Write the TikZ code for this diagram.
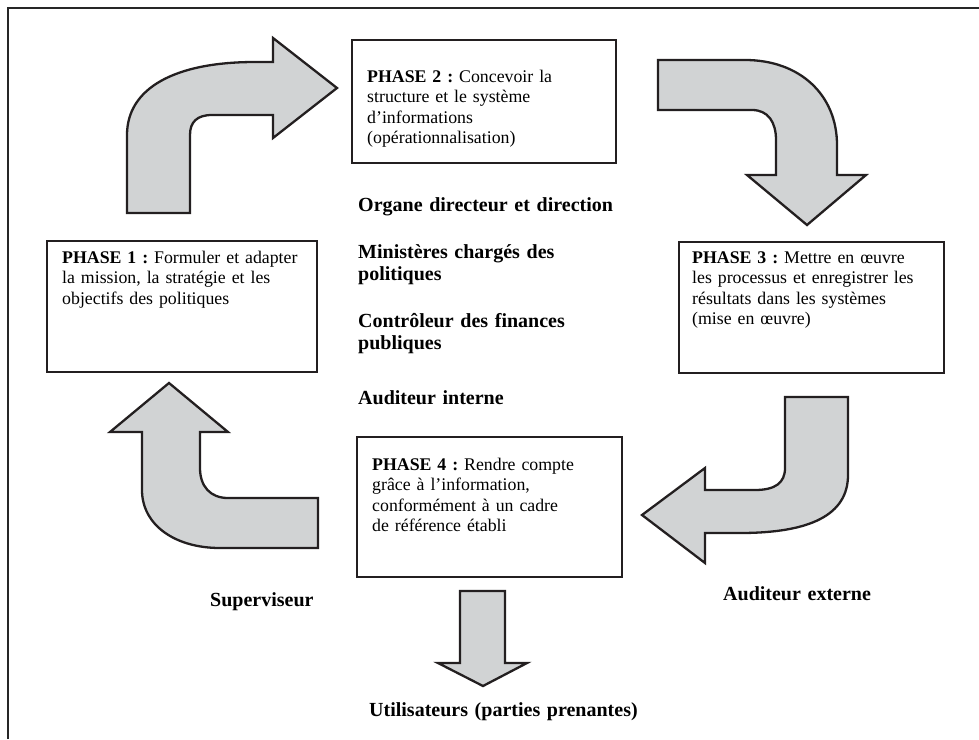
\documentclass[tikz,border=0pt]{standalone}
\usepackage{fontspec}
\setmainfont{Liberation Serif}
\usetikzlibrary{positioning}

\definecolor{grigio}{RGB}{209,211,212}
\definecolor{contorno}{RGB}{35,31,32}

\begin{document}
\frenchspacing
\begin{tikzpicture}[x=1pt, y=-1pt,
    freccia/.style={fill=grigio, draw=contorno, line width=2.3pt},
    cadre/.style={draw=contorno, line width=1.8pt, outer sep=0pt, anchor=north west},
    testo/.style={font=\fontsize{17.8}{20.5}\selectfont, align=left, text width=260pt, inner sep=0pt, anchor=base west},
    etichetta/.style={font=\fontsize{20}{22.5}\selectfont\bfseries, align=left, text width=320pt, inner sep=0pt, anchor=base west}]

    \useasboundingbox (0,0) rectangle (979,739);

    % cornice esterna (solo bordo sinistro e superiore)
    \draw[black!85, line width=1.5pt] (8,739) -- (8,8) -- (979,8);

    % -- Le quattro fasi --
    \node[cadre, minimum width=270, minimum height=131] (f1) at (47,241) {};
    \node[cadre, minimum width=264, minimum height=123] (f2) at (352,40) {};
    \node[cadre, minimum width=265, minimum height=131] (f3) at (679,242) {};
    \node[cadre, minimum width=265, minimum height=140] (f4) at (357,437) {};

    \node[testo] (t1) at (62,263) {\textbf{PHASE 1 :} Formuler et adapter\\la mission, la stratégie et les\\objectifs des politiques};
    \node[testo] (t2) at (367,82) {\textbf{PHASE 2 :} Concevoir la\\structure et le système\\d’informations\\(opérationnalisation)};
    \node[testo] (t3) at (692,263) {\textbf{PHASE 3 :} Mettre en œuvre\\les processus et enregistrer les\\résultats dans les systèmes\\(mise en œuvre)};
    \node[testo] (t4) at (372,470) {\textbf{PHASE 4 :} Rendre compte\\grâce à l’information,\\conformément à un cadre\\de référence établi};

    % -- Frecce del ciclo --
    % fase 1 -> fase 2
    \draw[freccia] (127,213) -- (127,135) .. controls (127,88) and (175,62) .. (255,62) -- (273,62)
                   -- (273,38) -- (337,88) -- (273,138) -- (273,115) -- (212,115)
                   .. controls (197,115) and (190,122) .. (190,135) -- (190,213) -- cycle;

    % fase 2 -> fase 3
    \draw[freccia] (658,60) -- (745,60) .. controls (800,60) and (837,95) .. (837,145) -- (837,175)
                   -- (866,175) -- (807,225) -- (747,175) -- (776,175) -- (776,140)
                   .. controls (776,122) and (768,110) .. (752,110) -- (658,110) -- cycle;

    % fase 3 -> fase 4
    \draw[freccia] (785,397) -- (848,397) -- (848,475) .. controls (848,515) and (810,533) .. (740,533)
                   -- (705,533) -- (705,563) -- (642,515) -- (705,468) -- (705,490) -- (755,490)
                   .. controls (775,490) and (785,483) .. (785,468) -- cycle;

    % fase 4 -> fase 1
    \draw[freccia] (318,548) -- (220,548) .. controls (175,548) and (142,525) .. (142,490) -- (142,432)
                   -- (110,432) -- (169,383) -- (228,432) -- (200,432) -- (200,468)
                   .. controls (200,486) and (210,498) .. (228,498) -- (318,498) -- cycle;

    % verso gli utilizzatori
    \draw[freccia] (460,591) -- (505,591) -- (505,663) -- (527,663) -- (483,686) -- (438,663) -- (460,663) -- cycle;

    % -- Attori al centro --
    \node[etichetta] (organe) at (358,211) {Organe directeur et direction};
    \node[etichetta] (minist) at (358,258) {Ministères chargés des\\politiques};
    \node[etichetta] (controle) at (358,327) {Contrôleur des finances\\publiques};
    \node[etichetta] (audint) at (358,404) {Auditeur interne};

    % -- Attori esterni --
    \node[etichetta] (superv) at (210,606) {Superviseur};
    \node[etichetta] (audext) at (723,600) {Auditeur externe};
    \node[etichetta] (util) at (369,716) {Utilisateurs (parties prenantes)};
\end{tikzpicture}
\end{document}
